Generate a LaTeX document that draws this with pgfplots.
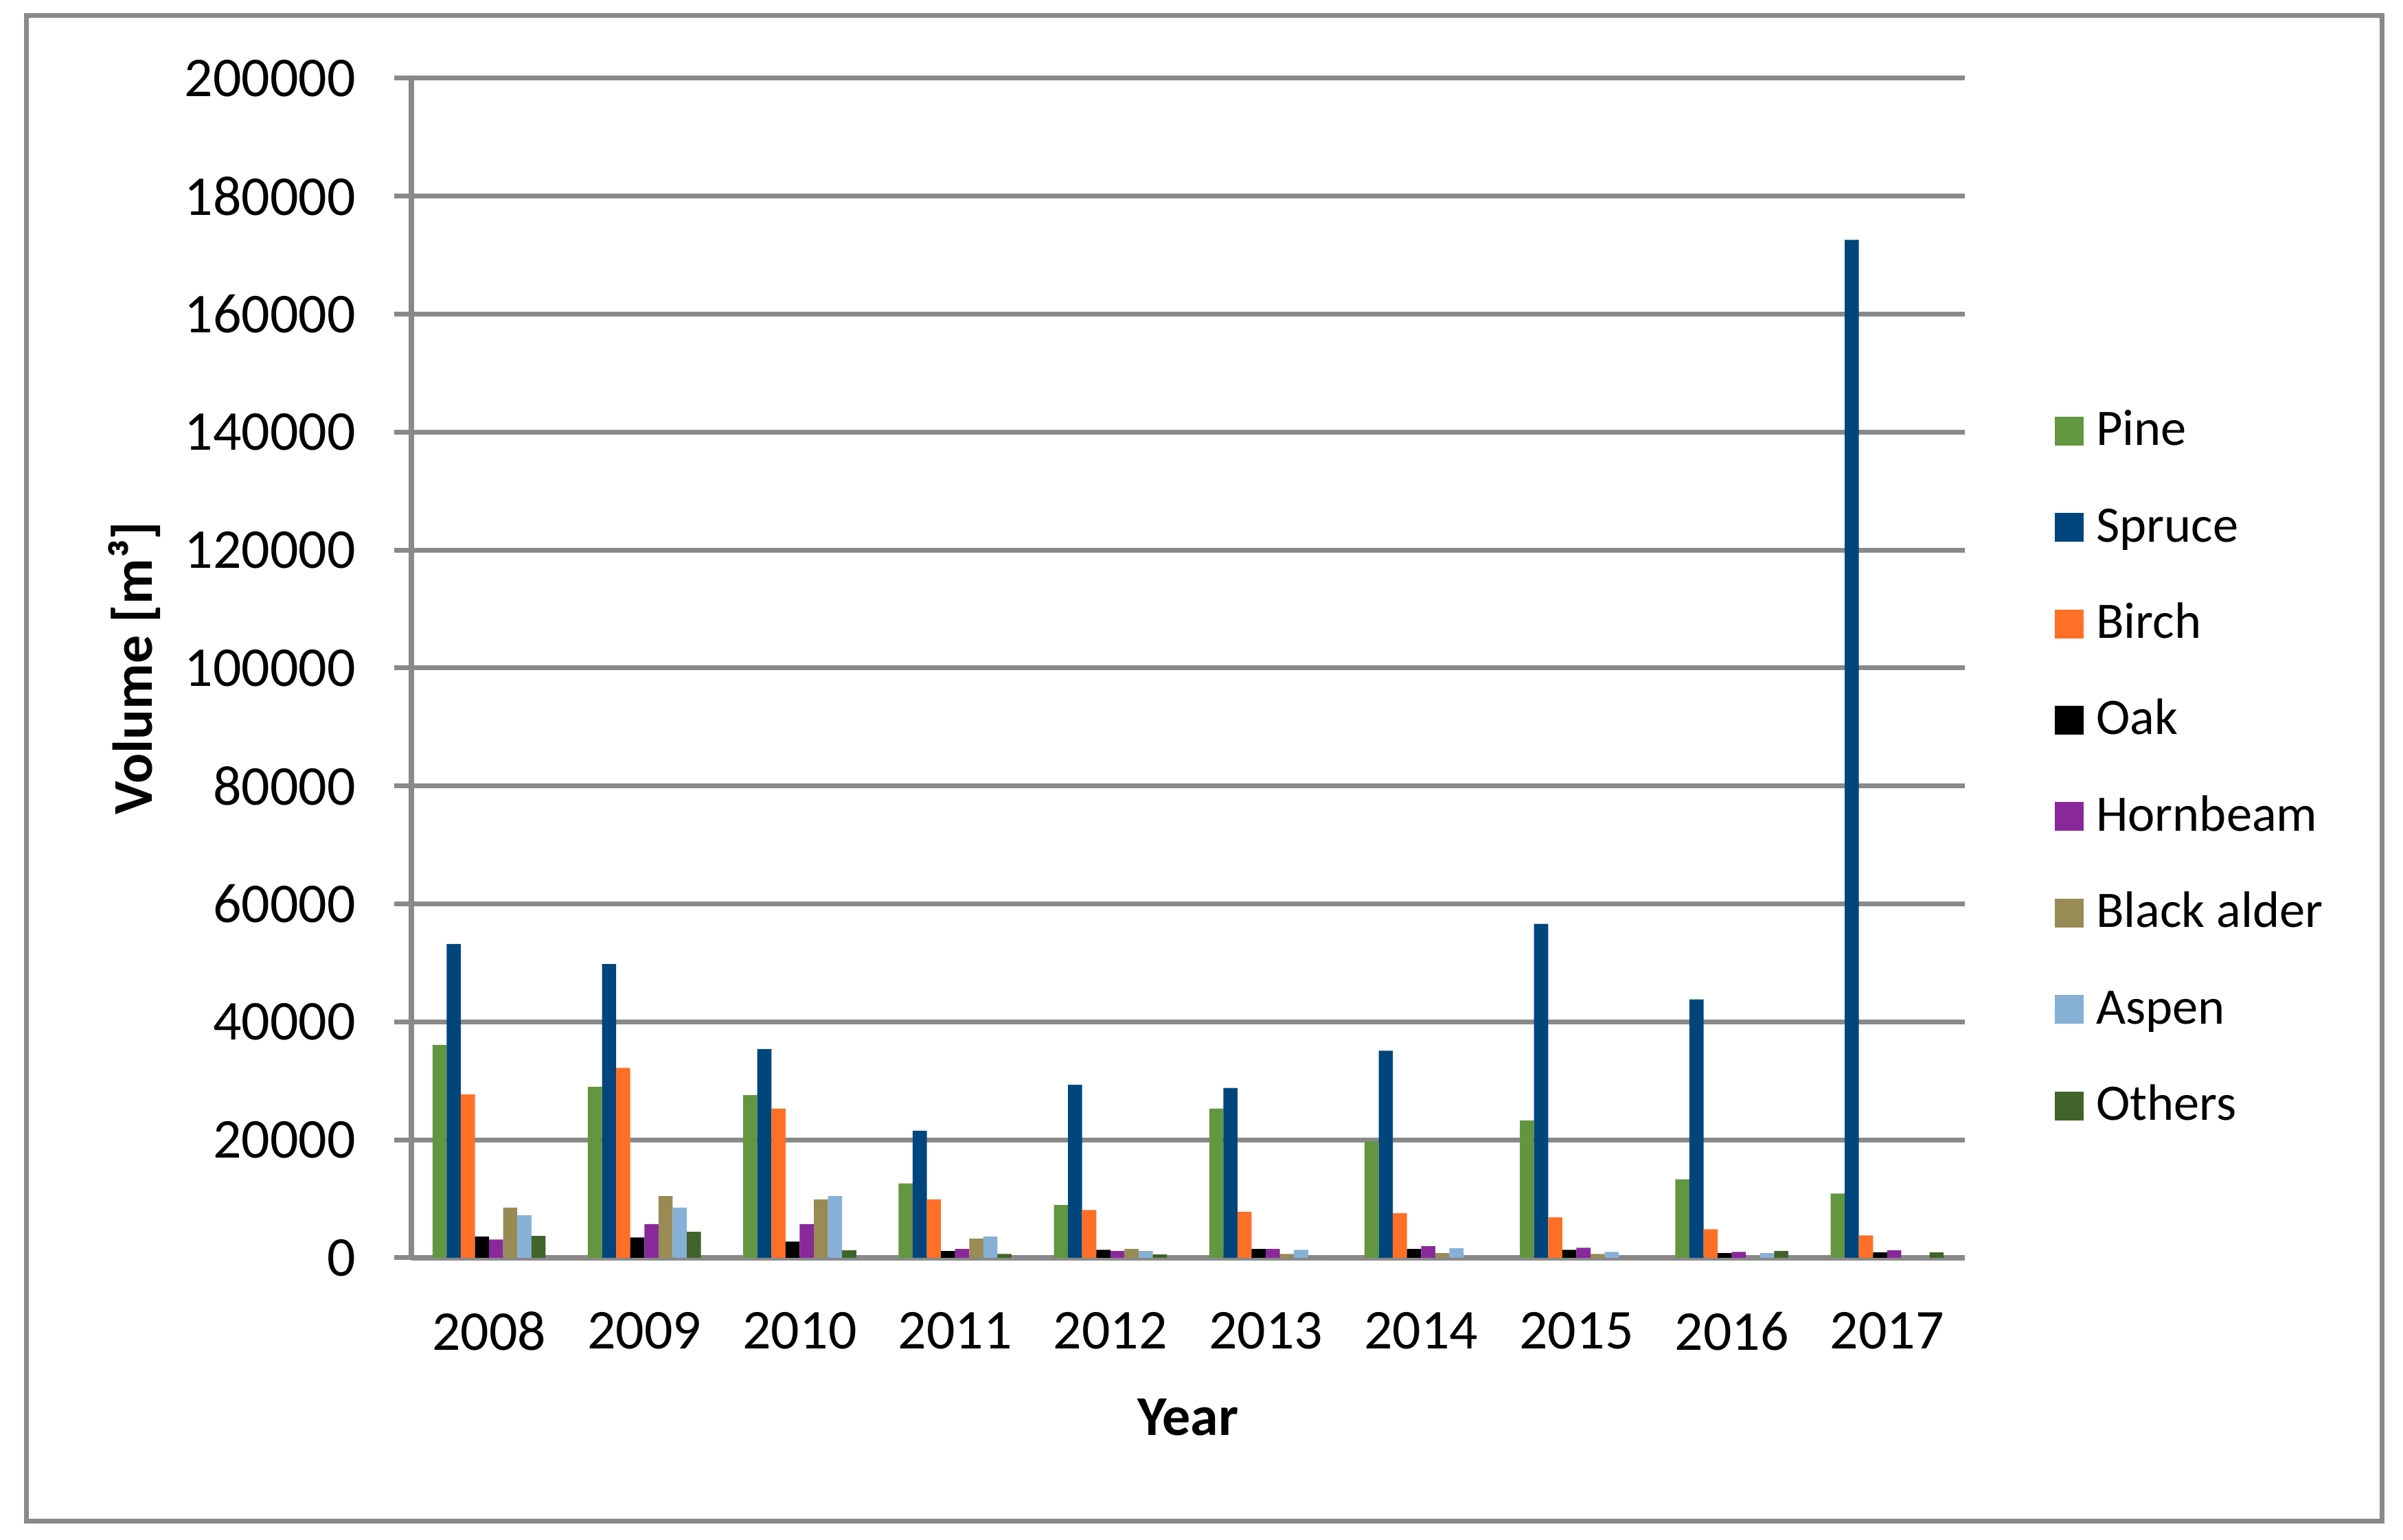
\documentclass[border=0pt]{standalone}
\usepackage{fontspec}
\setmainfont{Carlito}
\usepackage{pgfplots}
\pgfplotsset{compat=1.18}
\definecolor{gridgray}{RGB}{137,137,137}
\definecolor{cpine}{RGB}{99,150,64}
\definecolor{cspruce}{RGB}{0,70,125}
\definecolor{cbirch}{RGB}{255,112,38}
\definecolor{coak}{RGB}{0,0,0}
\definecolor{chorn}{RGB}{136,40,155}
\definecolor{calder}{RGB}{152,139,85}
\definecolor{caspen}{RGB}{134,176,214}
\definecolor{cothers}{RGB}{65,100,42}
\pgfplotsset{
  layers/mylayers/.define layer set={axis background,axis grid,main,axis ticks,axis lines,axis tick labels,axis descriptions,axis foreground}{},
}
\newcommand{\cf}{\fontsize{11.7}{14}\selectfont}
\newcommand{\lf}{\fontsize{10.65}{12.8}\selectfont}
\begin{document}
\cf
\begin{tikzpicture}
\begin{axis}[
  set layers=mylayers,
  width=323.14pt, height=245.43pt, scale only axis,
  xmin=-0.5, xmax=9.5, ymin=0, ymax=200000,
  ybar=0pt, bar width=2.94pt,
  xtick={0,...,9}, xticklabels={2008,2009,2010,2011,2012,2013,2014,2015,2016,2017},
  ytick={0,20000,...,200000},
  scaled y ticks=false,
  y tick label style={/pgf/number format/fixed, /pgf/number format/1000 sep={}, /pgf/number format/assume math mode=true, xshift=-3.9pt},
  x tick label style={yshift=-3.6pt},
  tick label style={font=\cf, text=black},
  axis x line*=bottom, axis y line*=left,
  axis line style={-, draw=gridgray, line width=1.1pt},
  ymajorgrids, grid style={draw=gridgray, line width=1pt},
  ytick style={draw=gridgray, line width=1pt},
  tick align=outside, major tick length=3.6pt,
  xtick style={draw=none},
  xlabel={\textbf{Year}},
  ylabel={\textbf{Volume [m³]}},
  xlabel style={at={([yshift=-36.9pt]rel axis cs:0.5,0)}, anchor=base, font=\cf},
  ylabel style={at={([xshift=-53.9pt]rel axis cs:0,0.5)}, anchor=base, font=\cf},
  legend image code/.code={\fill[#1] (0pt,-3pt) rectangle (6pt,3pt);},
  legend cell align=left,
  legend style={at={([xshift=18.7pt,yshift=-20.9pt]rel axis cs:1,0.5)}, anchor=west, draw=none, fill=none, inner sep=0pt, outer sep=0pt, font=\lf, row sep=10.07pt, column sep=2.6pt, nodes={inner sep=0pt, text height=8pt, text depth=2pt}},
]
\addplot[draw=none, fill=cpine] coordinates {(0,36100) (1,29000) (2,27600) (3,12600) (4,8950) (5,25300) (6,19700) (7,23300) (8,13300) (9,10900)};
\addplot[draw=none, fill=cspruce] coordinates {(0,53200) (1,49800) (2,35400) (3,21550) (4,29350) (5,28800) (6,35100) (7,56600) (8,43800) (9,172600)};
\addplot[draw=none, fill=cbirch] coordinates {(0,27700) (1,32200) (2,25300) (3,9900) (4,8100) (5,7800) (6,7550) (7,6850) (8,4850) (9,3800)};
\addplot[draw=none, fill=coak] coordinates {(0,3600) (1,3450) (2,2750) (3,1150) (4,1350) (5,1500) (6,1500) (7,1350) (8,800) (9,900)};
\addplot[draw=none, fill=chorn] coordinates {(0,3100) (1,5700) (2,5700) (3,1500) (4,1150) (5,1500) (6,1950) (7,1700) (8,1000) (9,1250)};
\addplot[draw=none, fill=calder] coordinates {(0,8500) (1,10450) (2,9900) (3,3250) (4,1500) (5,650) (6,800) (7,650) (8,0) (9,0)};
\addplot[draw=none, fill=caspen] coordinates {(0,7200) (1,8500) (2,10450) (3,3600) (4,1150) (5,1350) (6,1600) (7,1000) (8,800) (9,0)};
\addplot[draw=none, fill=cothers] coordinates {(0,3700) (1,4400) (2,1250) (3,650) (4,550) (5,0) (6,0) (7,0) (8,1150) (9,900)};
\legend{Pine,Spruce,Birch,Oak,Hornbeam,Black alder,Aspen,Others}
\end{axis}
\draw[gridgray, line width=1pt] (-80.14pt,-54.86pt) rectangle (409.86pt,258.43pt);
\path (-85.57pt,-58.71pt) rectangle (414.29pt,261.71pt);
\end{tikzpicture}
\end{document}
